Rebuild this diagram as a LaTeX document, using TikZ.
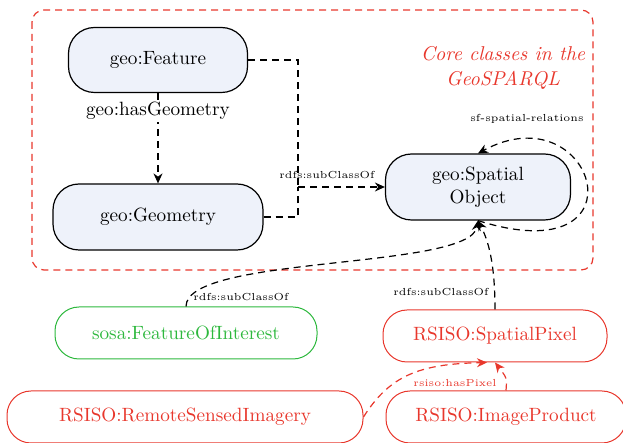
\documentclass[tikz,border=0pt]{standalone}
\usepackage{xcolor}
\usetikzlibrary{arrows.meta, positioning}
\definecolor{coreRed}{HTML}{E8372C}
\definecolor{sosaGreen}{HTML}{2DB83D}
\definecolor{geoFill}{HTML}{EEF2FA}
\tikzset{
  cls/.style = {draw, rectangle, rounded corners=13pt, fill=geoFill, line width=0.6pt, inner sep=0pt, align=center, font=\fontsize{9.6}{11.5}\selectfont},
  ext/.style = {draw, rectangle, rounded corners=12pt, line width=0.5pt, inner sep=0pt, minimum height=26pt, font=\fontsize{9.6}{11.5}\selectfont},
  lbl/.style = {font=\fontsize{5.1}{6}\selectfont, inner sep=1pt},
  dsh/.style = {dash pattern=on 3.5pt off 2.5pt, line width=0.6pt},
  rel/.style = {dsh, -{Stealth[length=5pt, width=4.5pt]}}
}
\begin{document}
\begin{tikzpicture}[x=0.5pt, y=-0.5pt]
\useasboundingbox (0,0) rectangle (623,443);
\draw [coreRed, dsh, rounded corners=6pt] (32,10) rectangle (593,270);
\node [coreRed, align=center, font=\fontsize{10}{12.5}\selectfont\itshape] (core) at (503,68) {Core classes in the\\GeoSPARQL};
\node [cls, minimum width=89.5pt, minimum height=32.5pt] (feat) at (158,60) {geo:Feature};
\node [cls, minimum width=105pt, minimum height=33pt] (geom) at (158,217) {geo:Geometry};
\node [cls, minimum width=92.5pt, minimum height=33pt] (spobj) at (478,187) {geo:Spatial\\Object};
\node [ext, sosaGreen, minimum width=131pt] (foi) at (186,333) {sosa:FeatureOfInterest};
\node [ext, coreRed, minimum width=112pt] (pixel) at (495,336) {RSISO:SpatialPixel};
\node [ext, coreRed, minimum width=178pt] (rsi) at (185,417) {RSISO:RemoteSensedImagery};
\node [ext, coreRed, minimum width=120pt] (prod) at (506,417) {RSISO:ImageProduct};
\coordinate (jn) at (298,187);
\draw [dsh] (feat.east) -| (jn);
\draw [dsh] (geom.east) -| (jn);
\draw [rel] (jn) -- (spobj.west);
\node [lbl] (sub1) at (327,175) {rdfs:subClassOf};
\draw [rel] (feat.south) -- (geom.north) node [pos=0.2, fill=white, inner sep=1pt, font=\fontsize{9.6}{11.5}\selectfont] (hasg) {geo:hasGeometry};
\draw [rel] (spobj.south) .. controls (650,275) and (595,90) .. (spobj.north);
\node [lbl] (sfrel) at (527,119) {sf-spatial-relations};
\draw [rel] (foi.north) .. controls (186,255) and (470,270) .. (spobj.south);
\node [lbl] (sub2) at (241,297) {rdfs:subClassOf};
\draw [rel] (pixel.north) .. controls (495,262) and (488,240) .. (spobj.south);
\node [lbl] (sub3) at (441,292) {rdfs:subClassOf};
\draw [rel, coreRed] (prod.north) .. controls (507,378) .. (pixel.south);
\draw [rel, coreRed] (rsi.east) .. controls (390,375) and (420,364) .. ([xshift=-4pt]pixel.south);
\node [lbl, coreRed] (haspx) at (455,383) {rsiso:hasPixel};
\end{tikzpicture}
\end{document}
